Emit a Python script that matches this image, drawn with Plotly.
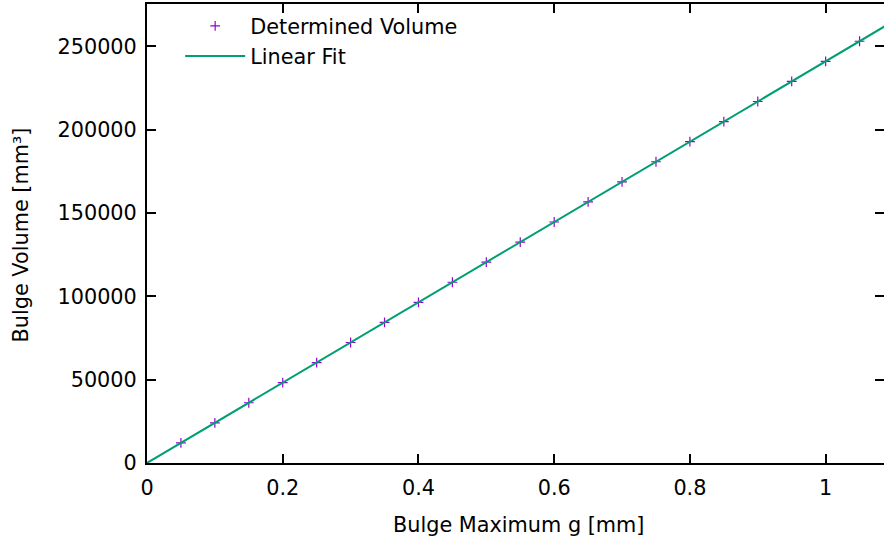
import plotly.graph_objects as go

# Bulge maximum g [mm] and the volume determined at each step [mm^3]
bulge_max_g = [0.05, 0.10, 0.15, 0.20, 0.25, 0.30, 0.35, 0.40, 0.45, 0.50,
               0.55, 0.60, 0.65, 0.70, 0.75, 0.80, 0.85, 0.90, 0.95, 1.00, 1.05]
bulge_volume = [12050, 24100, 36150, 48200, 60250, 72300, 84350, 96400,
                108450, 120500, 132550, 144600, 156650, 168700, 180750,
                192800, 204850, 216900, 228950, 241000, 253050]

# Linear fit evaluated across the plotted g range
fit_g = [0.0, 1.09]
fit_volume = [0.0, 262690]

x_ticks = [0, 0.2, 0.4, 0.6, 0.8, 1.0]
x_tick_text = ["0", "0.2", "0.4", "0.6", "0.8", "1"]
y_ticks = [0, 50000, 100000, 150000, 200000, 250000]
y_tick_text = ["0", "50000", "100000", "150000", "200000", "250000"]

FONT = "DejaVu Sans"
FS = 20.8

fig = go.Figure()
fig.add_trace(go.Scatter(
    x=bulge_max_g, y=bulge_volume, mode="markers", name="Determined Volume",
    marker=dict(symbol="cross-thin", size=7, color="#9400D3",
                line=dict(color="#9400D3", width=1.2)),
))
fig.add_trace(go.Scatter(
    x=fit_g, y=fit_volume, mode="lines", name="Linear Fit",
    line=dict(color="#009E73", width=2),
))

axis_common = dict(
    showgrid=False, zeroline=False, showline=True, linecolor="black",
    linewidth=2, mirror="ticks", ticks="inside", ticklen=9, tickwidth=1.5,
    tickcolor="black", tickfont=dict(family=FONT, size=FS, color="black"),
)

fig.update_xaxes(range=[0, 1.086], tickvals=x_ticks, ticktext=x_tick_text,
                 ticklabelstandoff=5, **axis_common)
fig.update_yaxes(range=[0, 275400], tickvals=y_ticks, ticktext=y_tick_text,
                 ticklabelstandoff=4, **axis_common)

fig.add_annotation(text="Bulge Maximum g [mm]", xref="paper", yref="paper",
                   x=0.5, y=0, yshift=-62, xshift=3, showarrow=False,
                   font=dict(family=FONT, size=FS, color="black"),
                   xanchor="center", yanchor="middle")
fig.add_annotation(text="Bulge Volume [mm³]", xref="paper", yref="paper",
                   x=0, y=0.5, xshift=-127, yshift=-2, showarrow=False,
                   textangle=-90,
                   font=dict(family=FONT, size=FS, color="black"),
                   xanchor="center", yanchor="middle")

fig.update_layout(
    width=884, height=543,
    margin=dict(l=147, r=0, t=4, b=80, autoexpand=False),
    plot_bgcolor="white", paper_bgcolor="white",
    font=dict(family=FONT, size=FS, color="black"),
    showlegend=True,
    legend=dict(x=0.045, y=0.996, xanchor="left", yanchor="top",
                bgcolor="rgba(0,0,0,0)", font=dict(family=FONT, size=FS),
                itemwidth=60, tracegroupgap=0),
)

fig.write_html("out.html")
